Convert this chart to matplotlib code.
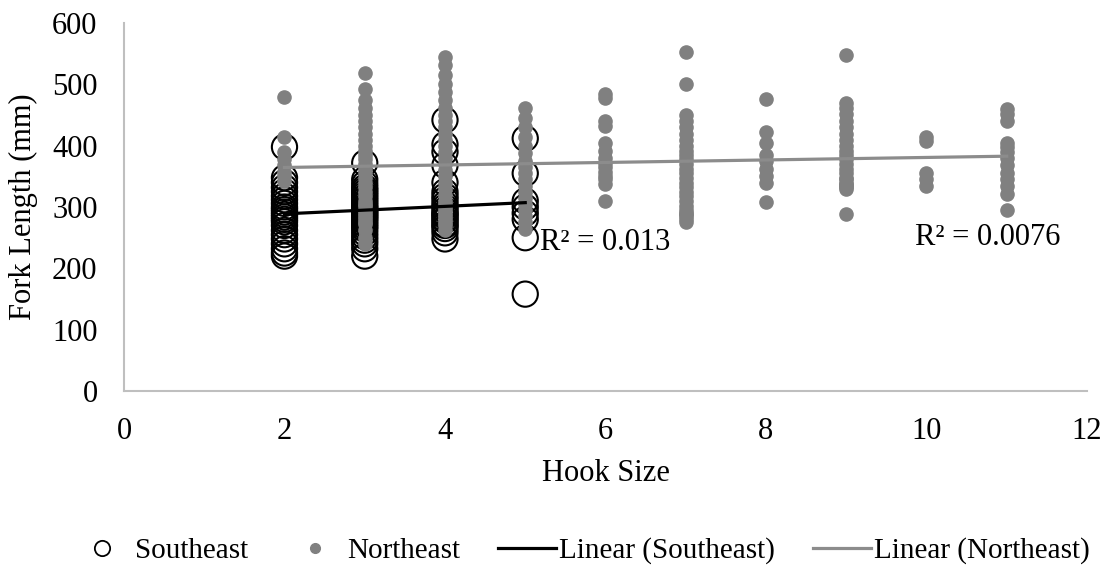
import numpy as np
from matplotlib import pyplot as plt
from matplotlib.lines import Line2D

# Fork length (mm), by hook size
se_hooks = [2, 3, 4, 5]
se_2 = [398, 348, 340, 332, 325, 318, 312, 306, 300, 296, 292, 288, 284, 280, 276, 270, 262, 255, 248, 240, 232, 225, 220]
se_3 = [372, 345, 338, 332, 328, 324, 320, 316, 312, 308, 304, 300, 298, 295, 292, 289, 286, 283, 280, 276, 272, 268, 264,
        258, 252, 246, 240, 232, 220]
se_4 = [442, 402, 390, 368, 340, 325, 318, 312, 305, 300, 295, 290, 288, 285, 280, 278, 272, 270, 265, 258, 248]
se_5 = [412, 355, 310, 300, 290, 280, 250, 158]

ne_hooks = [2, 3, 4, 5, 6, 7, 8, 9, 10, 11]
ne_2 = [480, 415, 390, 378, 368, 358, 350, 342]
ne_3 = [518, 492, 475, 462, 450, 440, 430, 420, 410, 400, 392, 385, 378, 370, 362, 355, 348, 340, 332, 325, 318, 310,
        305, 302, 295, 290, 285, 280, 275, 272, 262, 250, 240]
ne_4 = [545, 532, 515, 500, 488, 475, 462, 450, 440, 430, 420, 410, 400, 390, 380, 370, 360, 350, 340, 330, 320, 310,
        305, 300, 295, 290, 285, 280, 275, 270, 262]
ne_5 = [462, 445, 430, 415, 400, 388, 375, 365, 355, 345, 335, 325, 315, 305, 295, 285, 275, 265]
ne_6 = [485, 478, 440, 432, 405, 392, 380, 372, 365, 358, 350, 345, 338, 310]
ne_7 = [553, 500, 450, 440, 430, 420, 410, 400, 392, 385, 378, 370, 362, 355, 348, 340, 332, 325, 318, 310, 302, 295,
        290, 288, 285, 280, 275]
ne_8 = [477, 422, 405, 385, 375, 362, 350, 340, 308]
ne_9 = [548, 470, 462, 452, 440, 430, 420, 410, 400, 392, 385, 378, 370, 362, 355, 348, 345, 340, 338, 335, 333, 330, 288]
ne_10 = [415, 408, 355, 345, 335]
ne_11 = [460, 452, 440, 405, 398, 390, 380, 368, 355, 345, 335, 322, 295]

se_groups = [se_2, se_3, se_4, se_5]
ne_groups = [ne_2, ne_3, ne_4, ne_5, ne_6, ne_7, ne_8, ne_9, ne_10, ne_11]

se_x = [h for h, g in zip(se_hooks, se_groups) for _ in g]
se_y = [v for g in se_groups for v in g]
ne_x = [h for h, g in zip(ne_hooks, ne_groups) for _ in g]
ne_y = [v for g in ne_groups for v in g]

plt.rcParams['font.family'] = 'Liberation Serif'

fig = plt.figure(figsize=(11.12, 5.65), dpi=100)
ax = fig.add_axes([0.1115, 0.308, 0.866, 0.651])

ax.scatter(se_x, se_y, s=330, facecolors='none', edgecolors='black', linewidths=1.5, zorder=2)
ax.scatter(ne_x, ne_y, s=90, color='#808080', zorder=3)

# linear trendlines, like Excel
se_fit = np.polyfit(se_x, se_y, 1)
ne_fit = np.polyfit(ne_x, ne_y, 1)
xs = np.array([min(se_x), max(se_x)])
ax.plot(xs, np.polyval(se_fit, xs), color='black', linewidth=2.3, zorder=4)
xn = np.array([min(ne_x), max(ne_x)])
ax.plot(xn, np.polyval(ne_fit, xn), color='#8c8c8c', linewidth=2.3, zorder=4)

ax.text(5.18, 242, 'R² = 0.013', fontsize=22, va='center', ha='left')
ax.text(9.86, 250, 'R² = 0.0076', fontsize=22, va='center', ha='left')

ax.set_xlim(0, 12)
ax.set_ylim(0, 600)
ax.set_xticks(range(0, 13, 2))
ax.set_yticks(range(0, 601, 100))
ax.tick_params(length=0, labelsize=22)
ax.tick_params(axis='y', pad=19)
ax.tick_params(axis='x', pad=19)
for side in ['top', 'right']:
    ax.spines[side].set_visible(False)
for side in ['left', 'bottom']:
    ax.spines[side].set_color('#bfbfbf')
    ax.spines[side].set_linewidth(1.5)

ax.set_xlabel('Hook Size', fontsize=22, labelpad=9)
ax.set_ylabel('Fork Length (mm)', fontsize=22, labelpad=10)

handles = [
    Line2D([], [], marker='o', linestyle='none', markerfacecolor='none', markeredgecolor='black', markersize=11, markeredgewidth=1.3),
    Line2D([], [], marker='o', linestyle='none', color='#808080', markersize=7),
    Line2D([], [], color='black', linewidth=2.3),
    Line2D([], [], color='#8c8c8c', linewidth=2.3),
]
labels = ['Southeast', 'Northeast', 'Linear (Southeast)', 'Linear (Northeast)']
fig.legend(handles, labels, loc='lower center', bbox_to_anchor=(0.523, -0.045), ncol=4, frameon=False,
           fontsize=21, handlelength=2.0, handletextpad=0.1, columnspacing=1.3)

fig.savefig('out.png', dpi=100)
